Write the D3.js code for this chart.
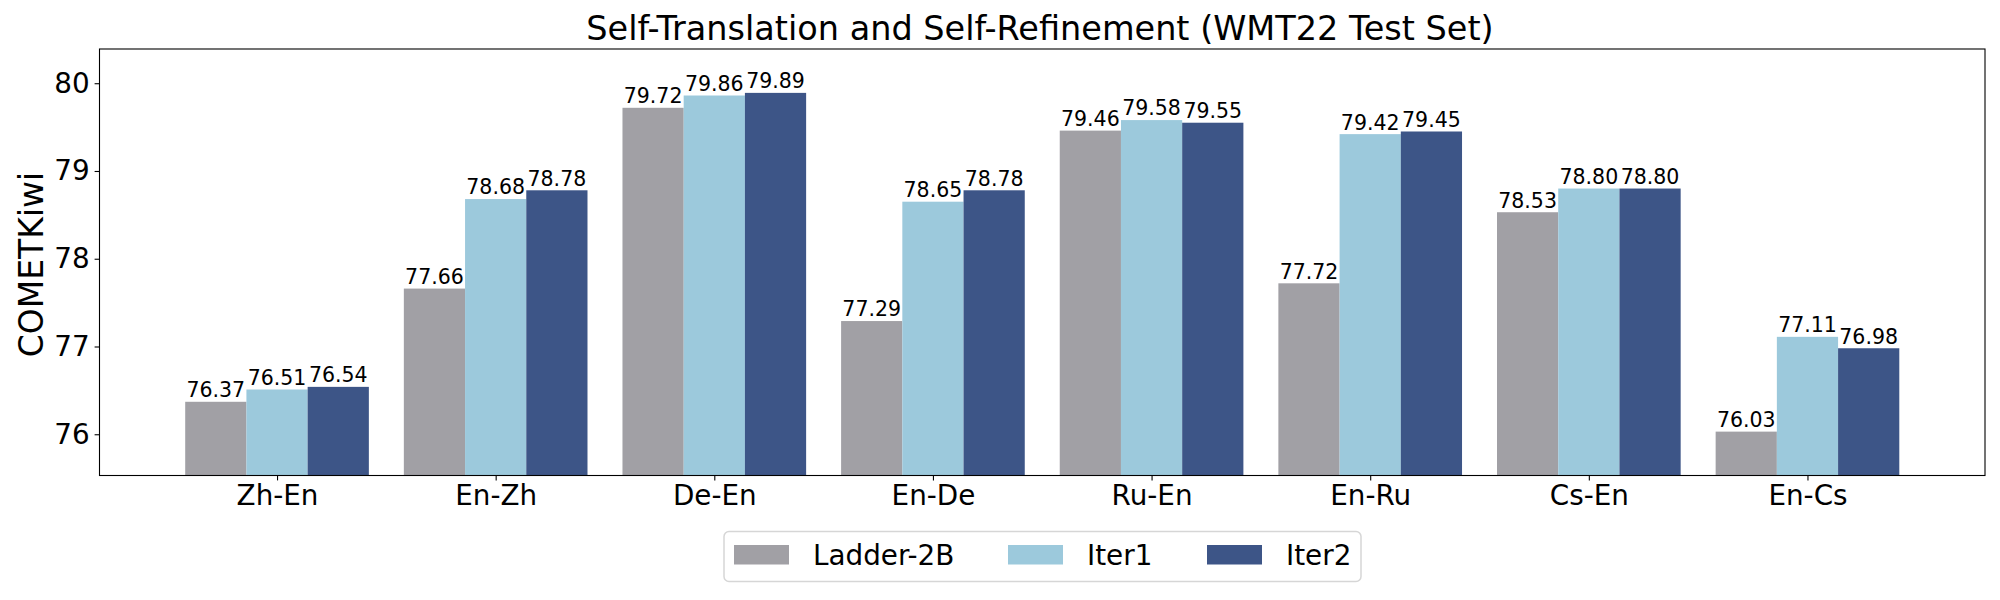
<!DOCTYPE html>
<html>
<head>
<meta charset="utf-8">
<script src="https://cdn.jsdelivr.net/npm/d3@7"></script>
<style>
  html, body { margin: 0; padding: 0; background: #fff; }
  svg { display: block; font-family: "DejaVu Sans", sans-serif; }
</style>
</head>
<body>
<svg id="chart" width="2000" height="600"></svg>
<script>
const categories = ["Zh-En", "En-Zh", "De-En", "En-De", "Ru-En", "En-Ru", "Cs-En", "En-Cs"];
const seriesNames = ["Ladder-2B", "Iter1", "Iter2"];
const ladder2B = [76.37, 77.66, 79.72, 77.29, 79.46, 77.72, 78.53, 76.03];
const iter1    = [76.51, 78.68, 79.86, 78.65, 79.58, 79.42, 78.80, 77.11];
const iter2    = [76.54, 78.78, 79.89, 78.78, 79.55, 79.45, 78.80, 76.98];
const yTicks = [76, 77, 78, 79, 80];
const colors = ["#a1a0a5", "#9cc9dc", "#3d5587"];

(function () {
const series = [ladder2B, iter1, iter2];
const svg = d3.select("#chart");

const mLeft = 99.5, mRight = 1985, mTop = 49, mBottom = 475.5;
const barW = 0.28;
const allVals = series.flat();
const yMin = d3.min(allVals) - 0.5, yMax = d3.max(allVals) + 0.5;

const x = d3.scaleLinear().domain([-0.812, categories.length - 1 + 0.812]).range([mLeft, mRight]);
const y = d3.scaleLinear().domain([yMin, yMax]).range([mBottom, mTop]);

// Bars
series.forEach((vals, j) => {
  const off = (j - 1) * barW;
  const g = svg.append("g");
  g.selectAll("rect").data(vals).join("rect")
    .attr("x", (d, i) => x(i + off - barW / 2))
    .attr("width", x(barW) - x(0))
    .attr("y", d => y(d))
    .attr("height", d => mBottom - y(d))
    .attr("fill", colors[j]);
  g.selectAll("text").data(vals).join("text")
    .attr("x", (d, i) => x(i + off))
    .attr("y", d => y(d) - 4.6)
    .attr("text-anchor", "middle")
    .attr("font-size", 20.5)
    .attr("fill", "#000")
    .text(d => d.toFixed(2));
});

// Axes
const yAxis = d3.axisLeft(y).tickValues(yTicks).tickSize(4.9).tickPadding(4.9).tickFormat(d3.format("d"));
const gy = svg.append("g").attr("transform", `translate(${mLeft},0)`).call(yAxis);
gy.select(".domain").remove();
gy.selectAll(".tick line").attr("stroke", "#000").attr("stroke-width", 1.1);
gy.selectAll(".tick text").attr("font-size", 27.8).attr("fill", "#000")
  .attr("font-family", "DejaVu Sans");

const xAxis = d3.axisBottom(x).tickValues(d3.range(categories.length))
  .tickSize(4.9).tickPadding(4.9).tickFormat(i => categories[i]);
const gx = svg.append("g").attr("transform", `translate(0,${mBottom})`).call(xAxis);
gx.select(".domain").remove();
gx.selectAll(".tick line").attr("stroke", "#000").attr("stroke-width", 1.1);
gx.selectAll(".tick text").attr("font-size", 27.8).attr("fill", "#000")
  .attr("font-family", "DejaVu Sans");

// Frame
svg.append("rect").attr("x", mLeft).attr("y", mTop)
  .attr("width", mRight - mLeft).attr("height", mBottom - mTop)
  .attr("fill", "none").attr("stroke", "#000").attr("stroke-width", 1.1);

// Title
svg.append("text").attr("x", 1040).attr("y", 40)
  .attr("text-anchor", "middle").attr("font-size", 33.5).attr("fill", "#000")
  .text("Self-Translation and Self-Refinement (WMT22 Test Set)");

// Y label
svg.append("text")
  .attr("transform", `translate(43,264.5) rotate(-90)`)
  .attr("text-anchor", "middle").attr("font-size", 33).attr("fill", "#000")
  .text("COMETKiwi");

// Legend
const lg = svg.append("g");
lg.append("rect").attr("x", 724).attr("y", 531.5).attr("width", 637).attr("height", 50)
  .attr("rx", 5).attr("fill", "#fff").attr("stroke", "#d6d6d6").attr("stroke-width", 1.5);
const legendX = [734, 1008, 1207];
seriesNames.forEach((name, j) => {
  lg.append("rect").attr("x", legendX[j]).attr("y", 545).attr("width", 55).attr("height", 19.5)
    .attr("fill", colors[j]);
  lg.append("text").attr("x", legendX[j] + 79).attr("y", 564.5)
    .attr("font-size", 27.8).attr("fill", "#000").text(name);
});
})();
</script>
</body>
</html>
